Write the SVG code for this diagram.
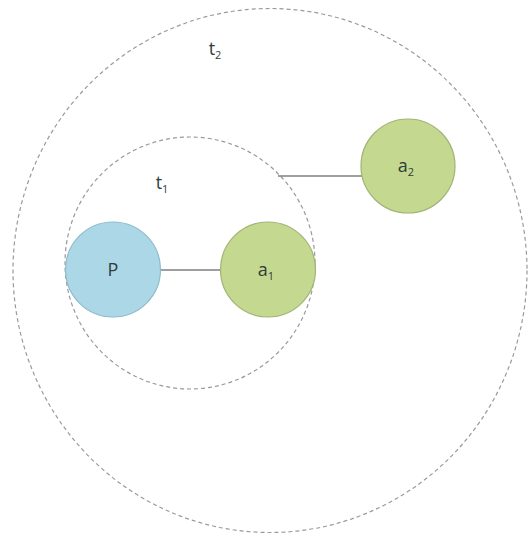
<svg xmlns="http://www.w3.org/2000/svg" width="529" height="539" viewBox="0 0 529 539">
<style>
.region{fill:none;stroke:#9a9a9a;stroke-width:1.2;stroke-dasharray:4 3}
.conn{stroke:#7f7f7f;stroke-width:1.3;fill:none}
.p{fill:#acd7e6;stroke:#8dbccc;stroke-width:1.2}
.a{fill:#c4d98f;stroke:#9fb476;stroke-width:1.2}
.lbl{font-family:"Open Sans","Liberation Sans",sans-serif;font-size:18px;fill:#2f3d3d;text-anchor:middle}
.sub{font-size:11px}
</style>
<rect width="529" height="539" fill="#ffffff"/>
<g id="t2"><ellipse class="region" cx="270" cy="270.5" rx="257" ry="262"/>
<text class="lbl" x="215" y="55">t<tspan class="sub" dy="4">2</tspan></text></g>
<g id="t1"><ellipse class="region" cx="190" cy="263" rx="125" ry="126"/>
<text class="lbl" x="162" y="189">t<tspan class="sub" dy="4">1</tspan></text></g>
<g id="connectors">
<line class="conn" x1="160" y1="270" x2="221" y2="270"/>
<line class="conn" x1="278" y1="176" x2="362" y2="176"/>
</g>
<g id="P"><circle class="p" cx="113" cy="269.5" r="47.5"/>
<text class="lbl" x="113" y="276">P</text></g>
<g id="a1"><circle class="a" cx="268" cy="269.5" r="47.5"/>
<text class="lbl" x="266" y="276">a<tspan class="sub" dy="4">1</tspan></text></g>
<g id="a2"><circle class="a" cx="408" cy="166" r="47"/>
<text class="lbl" x="406" y="172">a<tspan class="sub" dy="4">2</tspan></text></g>
</svg>
